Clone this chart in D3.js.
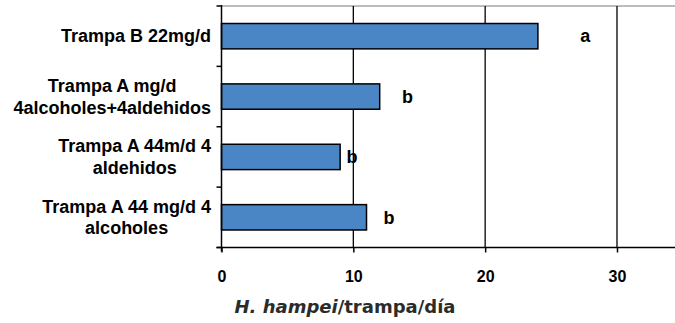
<!DOCTYPE html>
<html>
<head>
<meta charset="utf-8">
<script src="https://cdn.jsdelivr.net/npm/d3@7"></script>
<style>
  body { margin: 0; background: #fff; }
</style>
</head>
<body>
<svg id="chart" width="675" height="323" font-family="Liberation Sans, Arial, sans-serif"></svg>
<script>
// categories, top to bottom (each entry = label lines)
const categories = [
  ["Trampa B 22mg/d"],
  ["Trampa A mg/d", "4alcoholes+4aldehidos"],
  ["Trampa A 44m/d 4", "aldehidos"],
  ["Trampa A 44 mg/d 4", "alcoholes"]
];
const values = [24, 12, 9, 11];
const letters = ["a", "b", "b", "b"];
const letterAt = [27.6, 14.1, 9.9, 12.7];
const xTicks = [0, 10, 20, 30];

const svg = d3.select("#chart");
const plotL = 221.5, plotR = 675, plotT = 6, plotB = 247.5;

const x = d3.scaleLinear().domain([0, 34.4]).range([plotL, plotR]);
const y = d3.scaleBand()
  .domain(d3.range(categories.length))
  .range([plotT, plotB])
  .paddingInner(0.58)
  .paddingOuter(0.29);

// top border
svg.append("line")
  .attr("x1", plotL).attr("x2", plotR)
  .attr("y1", plotT).attr("y2", plotT)
  .attr("stroke", "#a6a6a6").attr("stroke-width", 1.5);

// gridlines
svg.append("g")
  .selectAll("line")
  .data(xTicks.filter(d => d > 0))
  .join("line")
  .attr("x1", d => x(d)).attr("x2", d => x(d))
  .attr("y1", plotT).attr("y2", plotB)
  .attr("stroke", "#000").attr("stroke-width", 1.3);

// bars
svg.append("g")
  .selectAll("rect")
  .data(values)
  .join("rect")
  .attr("x", x(0))
  .attr("y", (d, i) => y(i))
  .attr("width", d => x(d) - x(0))
  .attr("height", y.bandwidth())
  .attr("fill", "#4a86c6")
  .attr("stroke", "#000")
  .attr("stroke-width", 1.5);

// significance letters
svg.append("g")
  .selectAll("text")
  .data(letters)
  .join("text")
  .attr("x", (d, i) => x(letterAt[i]))
  .attr("y", (d, i) => y(i) + y.bandwidth() / 2)
  .attr("dy", "0.35em")
  .attr("text-anchor", "middle")
  .attr("font-size", 18)
  .attr("font-weight", "bold")
  .text(d => d);

// x axis
const xAxis = svg.append("g")
  .attr("transform", `translate(0,${plotB})`)
  .call(d3.axisBottom(x).tickValues(xTicks).tickSize(5).tickSizeOuter(0).tickPadding(18));
xAxis.attr("font-family", "Liberation Sans, Arial, sans-serif").attr("font-size", 16);
xAxis.select(".domain").attr("stroke-width", 1.5).attr("d", `M${plotL - 5},0H${plotR}`);
xAxis.selectAll(".tick line").attr("stroke-width", 1.5);
xAxis.selectAll(".tick text")
  .attr("font-weight", "bold")
  .attr("fill", "#000");

// y axis (line + ticks at band edges)
const yAxis = svg.append("g");
yAxis.append("line")
  .attr("x1", plotL).attr("x2", plotL)
  .attr("y1", plotT - 1).attr("y2", plotB + 4)
  .attr("stroke", "#000").attr("stroke-width", 1.5);
const edges = d3.range(categories.length + 1).map(i => plotT + i * (plotB - plotT) / categories.length);
yAxis.selectAll("line.tk")
  .data(edges)
  .join("line")
  .attr("class", "tk")
  .attr("x1", plotL - 5).attr("x2", plotL)
  .attr("y1", d => d).attr("y2", d => d)
  .attr("stroke", "#000").attr("stroke-width", 1.5);

// category labels: each block centred on itself, right edge at 211
const labelRight = 211, lineH = 21.5;
categories.forEach((lines, i) => {
  const g = svg.append("g");
  const cy = y(i) + y.bandwidth() / 2;
  const texts = lines.map((t, k) => g.append("text")
    .attr("y", cy + (k - (lines.length - 1) / 2) * lineH)
    .attr("dy", "0.35em")
    .attr("text-anchor", "middle")
    .attr("font-size", 18)
    .attr("font-weight", "bold")
    .text(t));
  const w = d3.max(texts, t => t.node().getComputedTextLength());
  texts.forEach(t => t.attr("x", labelRight - w / 2));
});

// axis title
const title = svg.append("text")
  .attr("x", 345)
  .attr("y", 313)
  .attr("text-anchor", "middle")
  .attr("font-family", "DejaVu Sans, sans-serif")
  .attr("font-size", 18)
  .attr("font-weight", "bold")
  .attr("fill", "#2b2b2b");
title.append("tspan").attr("font-style", "italic").text("H. hampei");
title.append("tspan").text("/trampa/día");
</script>
</body>
</html>
